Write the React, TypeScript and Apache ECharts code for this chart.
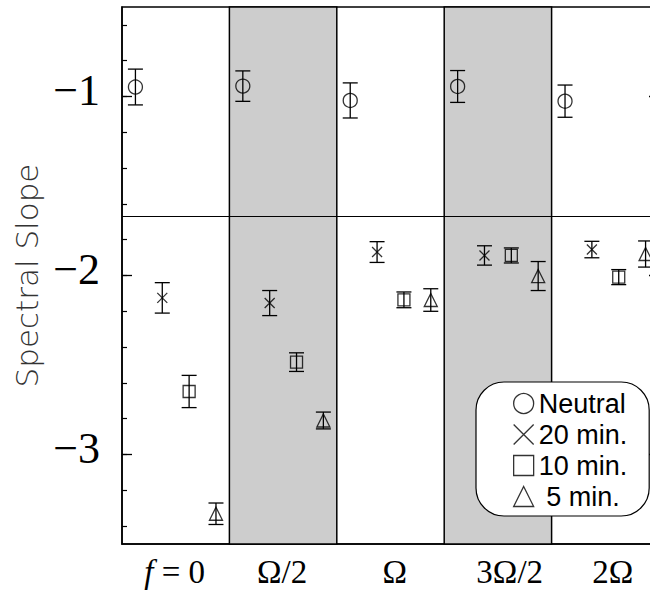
import React, { useEffect, useRef } from 'react';
import * as echarts from 'echarts';

// ---- data ----
const categories = ['f = 0', 'Ω/2', 'Ω', '3Ω/2', '2Ω'];
const categoryLabelAt = [0.49, 1.49, 2.54, 3.61, 4.57];
const shadedBands = [
  [1, 2],
  [3, 4],
];
const seriesNames = ['Neutral', '20 min.', '10 min.', '5 min.'];
const neutral = [-0.947, -0.942, -1.022, -0.944, -1.026];
const neutralErr = [0.1, 0.085, 0.098, 0.089, 0.09];
const min20 = [-2.125, -2.154, -1.869, -1.888, -1.855];
const min20Err = [0.085, 0.07, 0.058, 0.054, 0.046];
const min10 = [-2.648, -2.484, -2.136, -1.888, -2.009];
const min10Err = [0.09, 0.052, 0.044, 0.042, 0.042];
const min5 = [-3.331, -2.81, -2.137, -2.003, -1.88];
const min5Err = [0.06, 0.047, 0.063, 0.081, 0.073];
const dividerValue = -1.665;
const yMajorTicks = [-3, -2, -1];
const yMinorTicks = [-3.4, -3.2, -3.0, -2.8, -2.6, -2.4, -2.2, -2.0, -1.8, -1.6, -1.4, -1.2, -1.0, -0.8, -0.6];

// ---- layout / style ----
const dodge = [0.125, 0.375, 0.625, 0.875];
const symbols = ['circle', 'path://M0,0L10,10M10,0L0,10', 'rect', 'triangle'];
const symbolSizes = [14, 10, 12, 13];

const values = [neutral, min20, min10, min5];
const errors = [neutralErr, min20Err, min10Err, min5Err];

export default function App() {
  const ref = useRef<HTMLDivElement>(null);
  useEffect(() => {
    if (!ref.current) return;
    const chart = echarts.init(ref.current, null, { renderer: 'svg' });

    const scatterSeries = seriesNames.map((name, s) => ({
      name,
      type: 'scatter',
      z: 4,
      symbol: symbols[s],
      symbolSize: symbolSizes[s],
      itemStyle: { color: 'transparent', borderColor: '#000', borderWidth: 1.3 },
      data: values[s].map((v, i) => [i + dodge[s], v]),
    }));

    const errorSeries = seriesNames.map((name, s) => ({
      type: 'custom',
      z: 3,
      silent: true,
      data: values[s].map((v, i) => [i + dodge[s], v, errors[s][i]]),
      encode: { x: 0, y: 1 },
      renderItem: (params: any, api: any) => {
        const x = api.value(0);
        const y = api.value(1);
        const e = api.value(2);
        const p1 = api.coord([x, y + e]);
        const p2 = api.coord([x, y - e]);
        const hw = 7.5;
        const st = { stroke: '#000', lineWidth: 1.3 };
        return {
          type: 'group',
          children: [
            { type: 'line', shape: { x1: p1[0], y1: p1[1], x2: p2[0], y2: p2[1] }, style: st },
            { type: 'line', shape: { x1: p1[0] - hw, y1: p1[1], x2: p1[0] + hw, y2: p1[1] }, style: st },
            { type: 'line', shape: { x1: p2[0] - hw, y1: p2[1], x2: p2[0] + hw, y2: p2[1] }, style: st },
          ],
        };
      },
    }));

    const option: any = {
      animation: false,
      backgroundColor: '#fff',
      grid: {
        left: 122,
        top: 7,
        width: 537,
        height: 537,
        outerBoundsMode: 'none',
        containLabel: false,
        show: true,
        borderColor: '#000',
        borderWidth: 1.5,
        backgroundColor: 'transparent',
      },
      legend: {
        data: seriesNames,
        orient: 'vertical',
        left: 476,
        top: 382,
        padding: [8, 22, 6, 37],
        itemWidth: 20,
        itemHeight: 20,
        itemGap: 4,
        selectedMode: false,
        backgroundColor: '#fff',
        borderColor: '#000',
        borderWidth: 1.2,
        borderRadius: 28,
        itemStyle: { borderWidth: 1.3 },
        formatter: (name: string) => (name === '5 min.' ? ' ' + name : name),
        textStyle: { fontFamily: 'Liberation Sans', fontSize: 27, color: '#000' },
      },
      xAxis: {
        type: 'value',
        min: 0,
        max: 5,
        axisLine: { show: true, onZero: false, lineStyle: { color: '#000', width: 1.5 } },
        axisTick: { show: false },
        splitLine: { show: false },
        axisLabel: {
          customValues: categoryLabelAt,
          formatter: (v: number) => {
            let best = 0;
            categoryLabelAt.forEach((p, i) => {
              if (Math.abs(p - v) < Math.abs(categoryLabelAt[best] - v)) best = i;
            });
            return best === 0 ? '{i|f} = 0' : categories[best];
          },
          fontFamily: 'Liberation Serif',
          fontSize: 33,
          color: '#000',
          margin: 11,
          rich: {
            i: { fontFamily: 'Liberation Serif', fontStyle: 'italic', fontSize: 33, color: '#000' },
          },
        },
      },
      yAxis: [
        {
          type: 'value',
          min: -3.5,
          max: -0.5,
          position: 'left',
          axisLine: { show: true, onZero: false, lineStyle: { color: '#000', width: 1.5 } },
          axisTick: { show: true, inside: true, length: 10, customValues: yMajorTicks, lineStyle: { color: '#000', width: 1.3 } },
          axisLabel: {
            customValues: yMajorTicks,
            formatter: (v: number) => '\u2212' + Math.abs(v),
            fontFamily: 'Liberation Serif',
            fontSize: 44,
            color: '#000',
            margin: 22,
            verticalAlign: 'bottom',
            lineHeight: 12,
          },
          splitLine: { show: false },
          name: 'Spectral Slope',
          nameLocation: 'middle',
          nameRotate: 90,
          nameGap: 80,
          nameTextStyle: { fontFamily: 'DejaVu Sans', fontWeight: 200, fontSize: 31, color: '#333' },
        },
        {
          type: 'value',
          min: -3.5,
          max: -0.5,
          position: 'left',
          axisLine: { show: false, onZero: false },
          axisTick: { show: true, inside: true, length: 5, customValues: yMinorTicks, lineStyle: { color: '#000', width: 1.2 } },
          axisLabel: { show: false },
          splitLine: { show: false },
        },
        {
          type: 'value',
          min: -3.5,
          max: -0.5,
          position: 'right',
          axisLine: { show: false, onZero: false },
          axisTick: { show: true, inside: true, length: 10, customValues: yMajorTicks, lineStyle: { color: '#000', width: 1.3 } },
          axisLabel: { show: false },
          splitLine: { show: false },
        },
      ],
      series: [
        {
          type: 'line',
          data: [],
          z: 1,
          silent: true,
          markArea: {
            silent: true,
            itemStyle: { color: '#cdcdcd', borderColor: '#000', borderWidth: 1.5 },
            data: shadedBands.map((b) => [{ xAxis: b[0] }, { xAxis: b[1] }]),
          },
        },
        {
          type: 'line',
          data: [],
          z: 2,
          silent: true,
          markLine: {
            silent: true,
            symbol: 'none',
            label: { show: false },
            lineStyle: { color: '#000', type: 'solid', width: 1.2 },
            data: [{ yAxis: dividerValue }],
          },
        },
        ...errorSeries,
        ...scatterSeries,
      ],
    };
    chart.setOption(option);
    return () => chart.dispose();
  }, []);
  return <div ref={ref} style={{ position: 'absolute', left: 0, top: 0, width: 650, height: 590 }} />;
}
